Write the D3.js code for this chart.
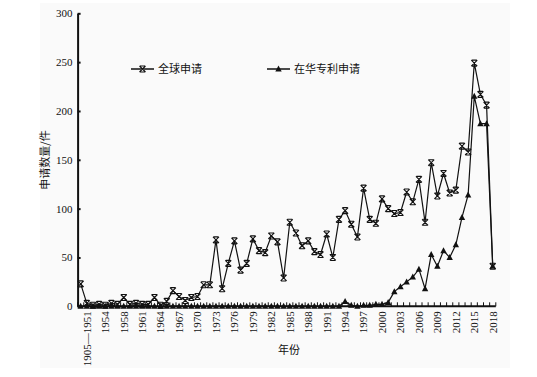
<!DOCTYPE html>
<html lang="zh">
<head>
<meta charset="UTF-8" />
<title>申请数量</title>
<style>
  body { margin: 0; background: #fff; }
  svg { display: block; }
  .num { font-family: "Liberation Serif", "DejaVu Serif", serif; font-size: 11px; fill: #111; }
  .cjk { font-family: "Noto Sans CJK SC", sans-serif; font-size: 11px; fill: #111; }
</style>
</head>
<body>
<svg id="chart" width="537" height="377"></svg>
<script src="https://cdnjs.cloudflare.com/ajax/libs/d3/7.8.5/d3.min.js"></script>
<script>
// categories (first one is the pooled early period)
const categories = ["1905", "1905—1951", "1952", "1953", "1954", "1955", "1957",
  ...d3.range(1958, 2019).map(String)];

const tickLabels = ["1905—1951", "1954", "1958", "1961", "1964", "1967", "1970", "1973",
  "1976", "1979", "1982", "1985", "1988", "1991", "1994", "1997", "2000", "2003",
  "2006", "2009", "2012", "2015", "2018"];

const yTicks = [0, 50, 100, 150, 200, 250, 300];

// 全球申请
const globalApps = [23, 3, 1, 2, 1, 3, 2, 9, 2, 3, 2, 2, 9, 1, 5, 16, 10, 6, 9, 10,
  22, 22, 68, 18, 44, 67, 37, 44, 69, 57, 55, 72, 66, 29, 86, 75, 62, 67, 56, 53,
  74, 50, 89, 98, 84, 71, 121, 89, 85, 110, 100, 95, 96, 117, 107, 130, 86, 147, 113, 136,
  116, 119, 164, 158, 249, 217, 206, 41];

// 在华专利申请
const chinaApps = [0, 0, 0, 0, 0, 0, 0, 0, 0, 0, 0, 0, 0, 0, 0, 0, 0, 0, 0, 0,
  0, 0, 0, 0, 0, 0, 0, 0, 0, 0, 0, 0, 0, 0, 0, 0, 0, 0, 0, 0,
  0, 0, 0, 5, 1, 0, 1, 1, 2, 2, 4, 15, 20, 25, 30, 38, 18, 53, 41, 57,
  50, 63, 91, 114, 215, 187, 187, 41];

const svg = d3.select("#chart");

// faint scan background
svg.append("rect").attr("x", 40).attr("y", 3).attr("width", 470).attr("height", 365)
  .attr("fill", "#fafafa");

const x = d3.scaleBand().domain(categories).range([77.6, 495.8]).padding(0);
const y = d3.scaleLinear().domain([0, 300]).range([306.3, 13.3]);
const cx = c => x(c) + x.bandwidth() / 2;

// y axis
const yAxis = svg.append("g")
  .attr("transform", `translate(${x.range()[0]},0)`)
  .call(d3.axisLeft(y).tickValues(yTicks).tickSizeInner(-3).tickSizeOuter(0).tickPadding(5));
yAxis.select(".domain").attr("stroke", "#111").attr("stroke-width", 2);
yAxis.selectAll(".tick line").attr("stroke", "#111").attr("stroke-width", 2);
yAxis.selectAll("text").attr("class", "num").attr("font-family", null).attr("font-size", null);

// x axis
const xAxis = svg.append("g");
xAxis.append("line")
  .attr("x1", x.range()[0]).attr("x2", x.range()[1])
  .attr("y1", y(0)).attr("y2", y(0))
  .attr("stroke", "#111").attr("stroke-width", 2);
xAxis.selectAll("line.tk")
  .data(categories.concat(["__end"]))
  .join("line")
  .attr("class", "tk")
  .attr("x1", d => d === "__end" ? x.range()[1] : x(d))
  .attr("x2", d => d === "__end" ? x.range()[1] : x(d))
  .attr("y1", y(0)).attr("y2", y(0) - 4)
  .attr("stroke", "#111").attr("stroke-width", 1);
xAxis.selectAll("text")
  .data(tickLabels)
  .join("text")
  .attr("class", "num")
  .attr("text-anchor", "end")
  .attr("dy", "0.35em")
  .attr("transform", d => `translate(${cx(d === "1905—1951" ? categories[1] : d === "1954" ? categories[4] : d)},${y(0) + 5}) rotate(-90)`)
  .text(d => d);

// axis titles
svg.append("text").attr("class", "cjk")
  .attr("text-anchor", "middle")
  .attr("transform", "translate(49,160) rotate(-90)")
  .text("申请数量/件");
svg.append("text").attr("class", "cjk")
  .attr("text-anchor", "middle")
  .attr("x", 289).attr("y", 354)
  .text("年份");

const line = d3.line().x((d, i) => cx(categories[i])).y(d => y(d));
const xMark = "M-3,-3L3,3M3,-3L-3,3M-2.5,-3L2.5,-3M-2.5,3L2.5,3";
const triMark = "M0,-3.5L3.2,2.5L-3.2,2.5Z";

// 在华专利申请
svg.append("path").datum(chinaApps)
  .attr("fill", "none").attr("stroke", "#111").attr("stroke-width", 1.2)
  .attr("d", line);
svg.append("g").selectAll("path")
  .data(chinaApps)
  .join("path")
  .attr("transform", (d, i) => `translate(${cx(categories[i])},${y(d)})`)
  .attr("d", triMark)
  .attr("fill", "#111");

// 全球申请
svg.append("path").datum(globalApps)
  .attr("fill", "none").attr("stroke", "#111").attr("stroke-width", 1.2)
  .attr("d", line);
svg.append("g").selectAll("path")
  .data(globalApps)
  .join("path")
  .attr("transform", (d, i) => `translate(${cx(categories[i])},${y(d)})`)
  .attr("d", xMark)
  .attr("fill", "none").attr("stroke", "#111").attr("stroke-width", 1.1);

// legend
const legend = [
  { name: "全球申请", mark: xMark, x: 131, filled: false },
  { name: "在华专利申请", mark: triMark, x: 267, filled: true }
];
const lg = svg.append("g").selectAll("g").data(legend).join("g")
  .attr("transform", d => `translate(${d.x},69)`);
lg.append("line").attr("x1", 0).attr("x2", 23).attr("stroke", "#111").attr("stroke-width", 1.5);
lg.append("path").attr("d", d => d.mark)
  .attr("transform", "translate(11.5,0)")
  .attr("fill", d => d.filled ? "#111" : "none")
  .attr("stroke", d => d.filled ? "none" : "#111")
  .attr("stroke-width", 1.1);
lg.append("text").attr("class", "cjk").attr("x", 27).attr("y", 4).text(d => d.name);
</script>
</body>
</html>
